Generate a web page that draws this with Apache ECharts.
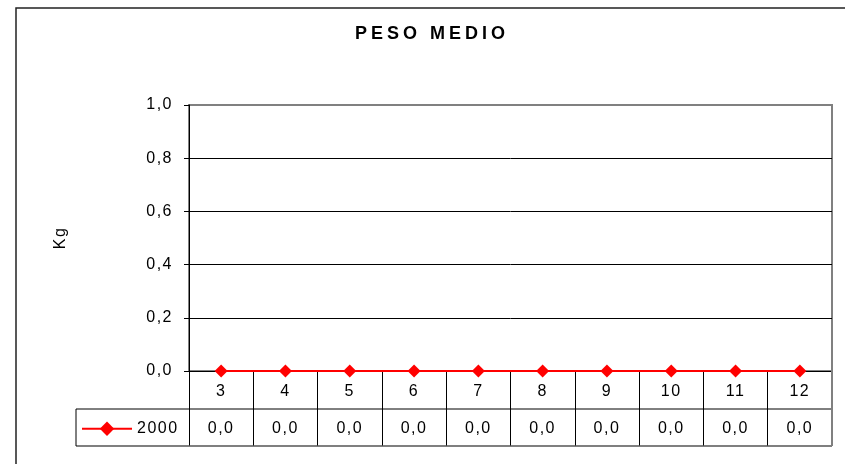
<!DOCTYPE html>
<html>
<head>
<meta charset="utf-8">
<script src="https://cdn.jsdelivr.net/npm/echarts@6/dist/echarts.min.js"></script>
<style>
  html, body { margin: 0; padding: 0; background: #fff; }
  #chart { width: 845px; height: 464px; }
</style>
</head>
<body>
<div id="chart"></div>
<script>
// ---- data ----
const titleText = 'PESO MEDIO';
const yAxisName = 'Kg';
const categories = ['3', '4', '5', '6', '7', '8', '9', '10', '11', '12'];
const seriesName = '2000';
const seriesValues = [0, 0, 0, 0, 0, 0, 0, 0, 0, 0];
const yMin = 0, yMax = 1, yStep = 0.2;

// wide letter spacing like the reference rendering
(function () {
  const P = CanvasRenderingContext2D.prototype;
  if (!('letterSpacing' in P)) return;
  function sp(ctx) { ctx.letterSpacing = /bold/.test(ctx.font) ? '4px' : '1.5px'; }
  const f = P.fillText, m = P.measureText;
  P.fillText = function () { sp(this); return f.apply(this, arguments); };
  P.measureText = function () { sp(this); return m.apply(this, arguments); };
})();

const fmt = v => Number(v).toFixed(1).replace('.', ',');

// layout
const G = { left: 189, top: 105, right: 845 - 832, bottom: 464 - 371 };
const plotL = G.left, plotR = 845 - G.right, plotB = 464 - G.bottom;
const row1B = 409, row2B = 446, tableL = 76;
const FONT = 'Liberation Sans, Arial, sans-serif';
const FS = 16;

const chart = echarts.init(document.getElementById('chart'), null, { renderer: 'canvas' });
chart.setOption({
  backgroundColor: '#fff',
  animation: false,
  textStyle: { fontFamily: FONT },
  title: {
    text: titleText,
    left: 432, top: 23, textAlign: 'center', padding: 0,
    textStyle: { fontFamily: FONT, fontSize: 18, fontWeight: 'bold', color: '#000' }
  },
  legend: {
    left: 81, top: 420, padding: 0,
    itemWidth: 50, itemHeight: 18, itemGap: 6,
    textStyle: { fontFamily: FONT, fontSize: FS, color: '#000' },
    data: [seriesName]
  },
  grid: { left: G.left, top: G.top, right: G.right, bottom: G.bottom, show: true, borderColor: '#808080', borderWidth: 2, backgroundColor: '#fff' },
  xAxis: [{
    type: 'category',
    data: categories,
    boundaryGap: true,
    axisLine: { show: true, lineStyle: { color: '#000', width: 1 } },
    axisTick: { show: true, interval: 0, length: row2B - plotB, lineStyle: { color: '#000' } },
    axisLabel: { interval: 0, margin: 12, fontFamily: FONT, fontSize: FS, color: '#000' },
    splitLine: { show: false }
  }, {
    type: 'category',
    position: 'bottom',
    offset: 37,
    data: seriesValues.map(fmt),
    boundaryGap: true,
    axisLine: { show: false },
    axisTick: { show: false },
    axisLabel: { interval: 0, margin: 12, fontFamily: FONT, fontSize: FS, color: '#000' },
    splitLine: { show: false }
  }],
  yAxis: {
    type: 'value',
    min: yMin, max: yMax, interval: yStep,
    name: yAxisName,
    nameLocation: 'middle',
    nameGap: 120,
    nameRotate: 90,
    nameTextStyle: { fontFamily: FONT, fontSize: FS, color: '#000' },
    axisLine: { show: true, lineStyle: { color: '#000', width: 1 } },
    axisTick: { show: true, length: 5, lineStyle: { color: '#000' } },
    axisLabel: { margin: 16, fontFamily: FONT, fontSize: FS, color: '#000', formatter: v => fmt(v) },
    splitLine: { show: true, lineStyle: { color: ['#000', '#000', '#000', '#000', '#000', '#808080'], width: 1 } }
  },
  series: [{
    name: seriesName,
    type: 'line',
    data: seriesValues,
    symbol: 'diamond',
    symbolSize: 13,
    lineStyle: { color: '#ff0000', width: 2 },
    itemStyle: { color: '#ff0000' },
    z: 5
  }],
  graphic: [
    { type: 'rect', silent: true, z: 100, shape: { x: 16, y: 8, width: 860, height: 490 }, style: { fill: null, stroke: '#222', lineWidth: 1.5 } },
    { type: 'line', silent: true, z: 100, shape: { x1: tableL, y1: row1B, x2: plotR, y2: row1B }, style: { stroke: '#000', lineWidth: 1 } },
    { type: 'line', silent: true, z: 100, shape: { x1: tableL, y1: row2B, x2: plotR, y2: row2B }, style: { stroke: '#555', lineWidth: 1.5 } },
    { type: 'line', silent: true, z: 100, shape: { x1: tableL, y1: row1B, x2: tableL, y2: row2B }, style: { stroke: '#000', lineWidth: 1 } },
    { type: 'line', silent: true, z: 100, shape: { x1: plotR, y1: plotB, x2: plotR, y2: row2B }, style: { stroke: '#808080', lineWidth: 2 } }
  ]
});
</script>
</body>
</html>
